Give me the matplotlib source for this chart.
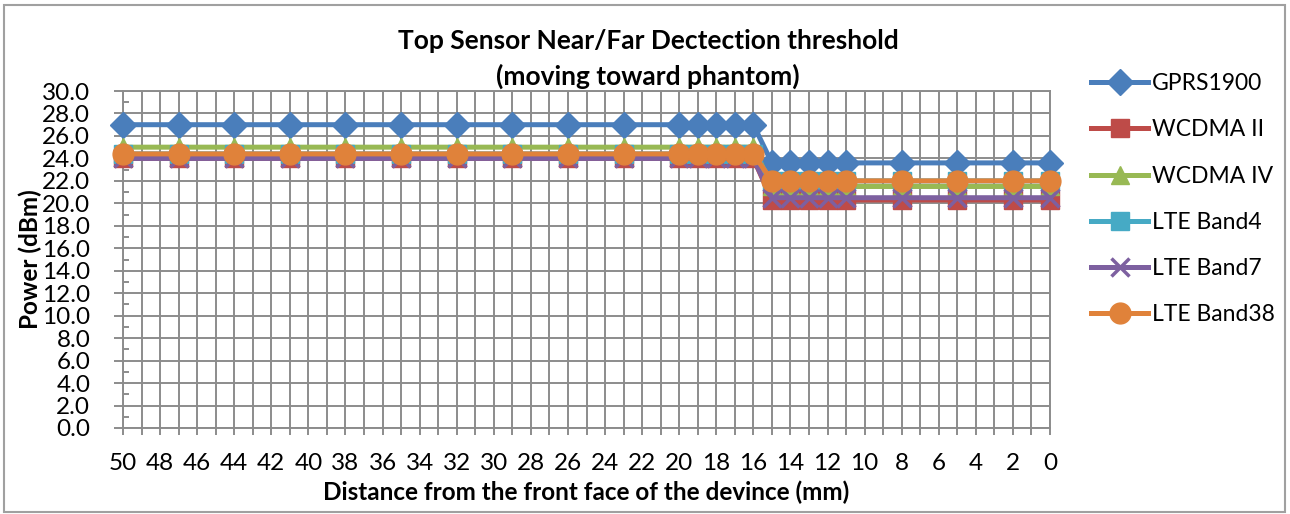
import matplotlib
matplotlib.use("Agg")
import matplotlib.pyplot as plt
from matplotlib.patches import Rectangle
from matplotlib.ticker import MultipleLocator, FormatStrFormatter

plt.rcParams['font.family'] = ['Lato', 'DejaVu Sans']

distance = [50, 47, 44, 41, 38, 35, 32, 29, 26, 23, 20, 19, 18, 17, 16,
            15, 14, 13, 12, 11, 8, 5, 2, 0]
gprs1900 = [27.0] * 15 + [23.6] * 9
wcdma_ii = [24.0] * 15 + [20.3] * 9
wcdma_iv = [25.0] * 15 + [21.5] * 9
lte_b4 = [24.4] * 15 + [22.0] * 9
lte_b7 = [24.0] * 15 + [20.5] * 9
lte_b38 = [24.4] * 15 + [22.0] * 9

series = [
    ("GPRS1900", gprs1900, "#4A7EBB", "D", 13.5),
    ("WCDMA II", wcdma_ii, "#BE4B48", "s", 13),
    ("WCDMA IV", wcdma_iv, "#98B954", "^", 13.5),
    ("LTE Band4", lte_b4, "#46AAC5", "s", 13),
    ("LTE Band7", lte_b7, "#7D60A0", "x", 12.5),
    ("LTE Band38", lte_b38, "#E0823A", "o", 15),
]

W, H = 1290, 514
fig = plt.figure(figsize=(W / 100, H / 100), dpi=100)
ax = fig.add_axes([123 / W, 1 - 428 / H, (1050 - 123) / W, (428 - 91) / H])

for name, vals, col, mk, ms in series:
    ax.plot(distance, vals, color=col, lw=3.6, marker=mk, markersize=ms,
            markerfacecolor=col, markeredgecolor=col,
            markeredgewidth=2.5 if mk == "x" else 1, label=name, clip_on=False,
            zorder=3)

ax.set_xlim(50, 0)
ax.set_ylim(0, 30)
ax.xaxis.set_major_locator(MultipleLocator(2))
ax.xaxis.set_minor_locator(MultipleLocator(1))
ax.yaxis.set_major_locator(MultipleLocator(2))
ax.yaxis.set_minor_locator(MultipleLocator(1))
ax.yaxis.set_major_formatter(FormatStrFormatter('%.1f'))

grid_col = "#8C8C8C"
ax.grid(True, which='major', axis='both', color=grid_col, lw=1.4, zorder=0)
ax.grid(True, which='minor', axis='x', color=grid_col, lw=1.4, zorder=0)
ax.set_axisbelow(True)

for s in ax.spines.values():
    s.set_color(grid_col)
    s.set_linewidth(1.4)

ax.tick_params(axis='x', which='both', direction='out', length=5, width=1.4,
               color=grid_col, labelsize=17.5, pad=13)
ax.tick_params(axis='y', which='major', direction='out', length=6.5, width=1.4,
               color=grid_col, labelsize=17.5, pad=17)
ax.tick_params(axis='y', which='minor', direction='in', length=4, width=1.4,
               color=grid_col)

ax.set_xlabel("Distance from the front face of the devince (mm)", fontsize=17.5,
              fontweight='bold', labelpad=5)
ax.set_ylabel("Power (dBm)", fontsize=17.5, fontweight='bold', labelpad=0)

fig.text(648 / W, 1 - 59 / H, "Top Sensor Near/Far Dectection threshold\n(moving toward phantom)",
         ha='center', va='center', fontsize=19, fontweight='bold', linespacing=1.5)

handles, labels = ax.get_legend_handles_labels()
leg = fig.legend(handles, labels, loc='upper left', bbox_to_anchor=(1082 / W, 1 - 64 / H),
                 frameon=False, fontsize=16.5, handlelength=2.5, handletextpad=0.15,
                 labelspacing=1.1, borderaxespad=0)

fig.patches.append(Rectangle((4 / W, 2 / H), (1285 - 4) / W, (511 - 4) / H,
                             transform=fig.transFigure, fill=False,
                             edgecolor="#A0A0A0", lw=1.5))

fig.savefig("out.png", dpi=100)
